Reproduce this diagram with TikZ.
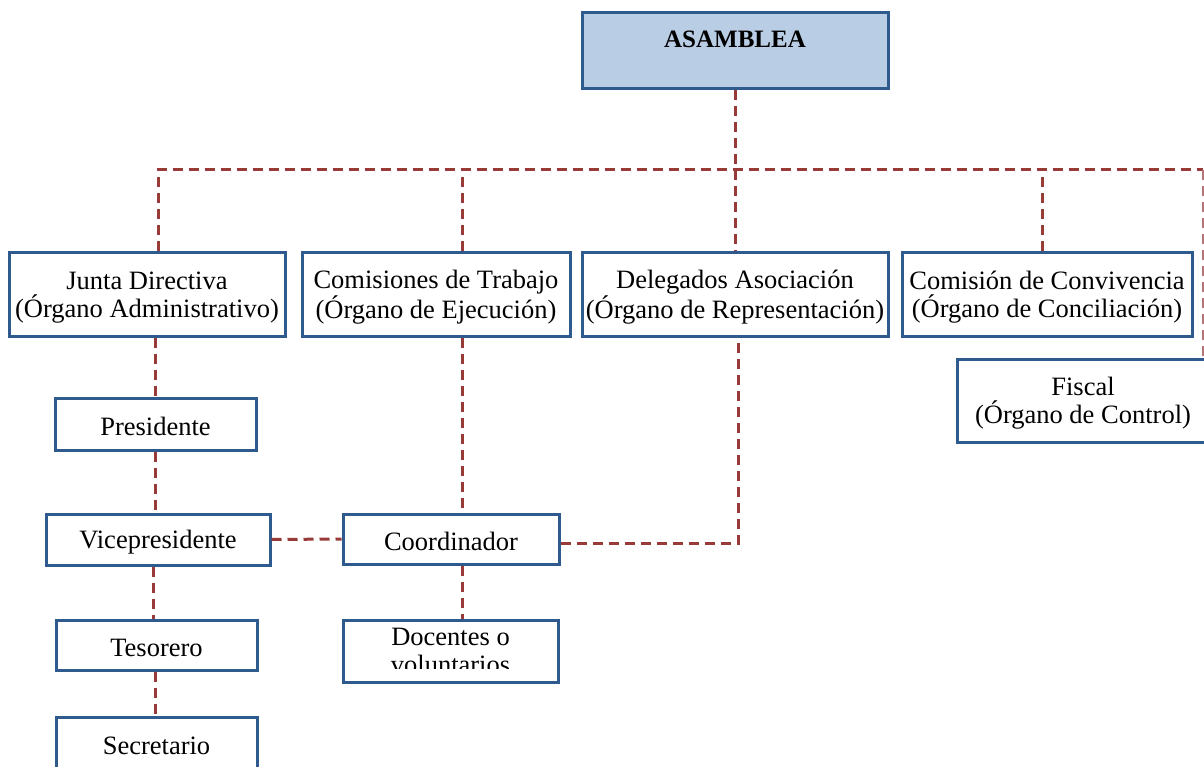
\documentclass[tikz,border=0pt]{standalone}
\usepackage{fontspec}
\setmainfont{Liberation Serif}
\definecolor{boxblue}{HTML}{2F5A8E}
\definecolor{boxfill}{HTML}{B9CDE5}
\definecolor{linered}{HTML}{973A38}
\newcommand\topstrut{\rule{0pt}{24pt}}
\begin{document}
\begin{tikzpicture}[x=1pt,y=-1pt,
  box/.style={draw=boxblue, line width=3pt, inner sep=0pt, align=center, fill=white,
    font=\fontsize{26.5}{28}\selectfont},
  conn/.style={draw=linered, line width=3pt, dash pattern=on 10pt off 6pt}]
\useasboundingbox (0,0) rectangle (1204,767);
% top
\node[box, fill=boxfill, minimum width=306, text height=35.5pt, text depth=40.5pt,
  font=\fontsize{25}{28}\selectfont\bfseries] (asamblea) at (735,0) [anchor=north, yshift=-11pt] {ASAMBLEA};
% second row
\node[box, minimum width=276, minimum height=83] (junta) at (147,294.5) {\topstrut Junta Directiva\\(Órgano Administrativo)};
\node[box, minimum width=268, minimum height=83] (comisiones) at (436,294.5) {\topstrut Comisiones de Trabajo\\(Órgano de Ejecución)};
\node[box, minimum width=306, minimum height=83] (delegados) at (735,294.5) {\topstrut Delegados Asociación\\(Órgano de Representación)};
\node[box, minimum width=290, minimum height=83] (convivencia) at (1047,294.5) {\topstrut Comisión de Convivencia\\(Órgano de Conciliación)};
\node[box, minimum width=252, minimum height=83] (fiscal) at (1083,400.5) {\topstrut Fiscal\\(Órgano de Control)};
% left column
\node[box, minimum width=201, minimum height=52] (presidente) at (155.5,424) {\topstrut Presidente};
\node[box, minimum width=224, minimum height=51] (vice) at (158,539.5) {\topstrut Vicepresidente};
\node[box, minimum width=201, minimum height=50] (tesorero) at (156.5,645) {\topstrut Tesorero};
\node[box, minimum width=201, minimum height=52] (secretario) at (156.5,743) {\topstrut Secretario};
% middle column
\node[box, minimum width=216, minimum height=50] (coord) at (451,539) {\topstrut Coordinador};
\node[box, minimum width=215, minimum height=62] (docentes) at (450.5,651) {Docentes o\\voluntarios};
\fill[white] (345,669) rectangle (556,680.5);
% helper coordinates
\coordinate (busL) at (158,170);
\coordinate (busR) at (1203,170);
\coordinate (cx) at (462,170);
\coordinate (dx) at (738,170);
\coordinate (jx) at (155,170);
\coordinate (vx) at (1042,170);
% connectors
\draw[conn] (busL |- junta.north) -- (busL) -- (busR);
\draw[conn] (cx |- comisiones.north) -- (cx);
\draw[conn] (asamblea.south) -- (delegados.north);
\draw[conn] (vx |- convivencia.north) -- (vx);
\draw[conn, line width=1.6pt, draw=linered!70] (busR) -- (busR |- fiscal.north);
\draw[conn] (jx |- junta.south) -- (jx |- presidente.north);
\draw[conn] (jx |- presidente.south) -- (jx |- vice.north);
\draw[conn] ([xshift=-2pt]jx |- vice.south) -- ([xshift=-2pt]jx |- tesorero.north);
\draw[conn] (jx |- tesorero.south) -- (jx |- secretario.north);
\draw[conn] (cx |- comisiones.south) -- (cx |- coord.north);
\draw[conn] (cx |- coord.south) -- (cx |- docentes.north);
\draw[conn] (vice.east) -- (coord.west);
\draw[conn] ([yshift=-4pt]coord.east) -| (dx |- delegados.south);
\end{tikzpicture}
\end{document}
